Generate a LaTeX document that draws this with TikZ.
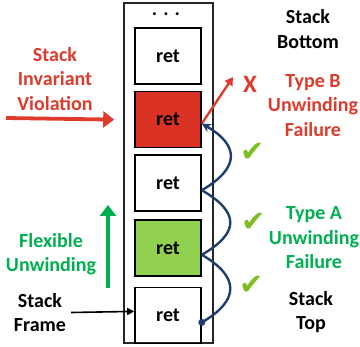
\documentclass[tikz,border=0pt]{standalone}
\usepackage{fontspec}
\setmainfont{Carlito}
\newfontfamily\symfont{DejaVu Sans}
\usetikzlibrary{positioning}
\usetikzlibrary{arrows.meta}
\definecolor{vred}{HTML}{DF3B2D}
\definecolor{fred}{HTML}{DA3225}
\definecolor{vgreen}{HTML}{00B050}
\definecolor{fgreen}{HTML}{92D050}
\definecolor{unblue}{HTML}{1F3D6E}
\definecolor{chkgreen}{HTML}{7DBE22}
\tikzset{
    frame/.style={
           draw=black!85,
           line width=1.8pt,
           },
    retbox/.style={
           rectangle,
           draw=black, line width=1.6pt,
           minimum width=66pt,
           minimum height=56pt,
           inner sep=0pt,
           font=\fontsize{20}{24}\selectfont\bfseries
           },
    lbl/.style={
              align=center,
              inner sep=0pt,
              font=\fontsize{20}{24.5}\selectfont\bfseries
              },
    bigarrow/.style={
              line width=3.8pt,
              -{Triangle[length=11pt,width=16pt]}
              },
    unwind/.style={
              unblue,
              line width=2.4pt
              },
    chk/.style={
              text=chkgreen,
              inner sep=0pt,
              font=\symfont\fontsize{29}{29}\selectfont
              },
}
\begin{document}
\begin{tikzpicture}[x=1pt,y=-1pt]
  \useasboundingbox (0,0) rectangle (360,347);
     \draw[frame] (124,3) rectangle (213,343);
     \node[lbl]    (dots) at (166,14) {. . .};
     \node[retbox] (b1) at (168,56) {ret};
     \node[retbox,fill=fred]   (b2) [below=6pt of b1] {ret};
     \node[retbox]             (b3) [below=6pt of b2] {ret};
     \node[retbox,fill=fgreen] (b4) [below=7pt of b3] {ret};
     \node[retbox]             (b5) [below=10pt of b4] {ret};

     \node[lbl,text=vred]   (siv) at (55,79)    {Stack\\Invariant\\Violation};
     \node[lbl]             (sb)  at (308,29)   {Stack\\Bottom};
     \node[lbl,text=vred]   (tb)  at (313,105.5) {Type B\\Unwinding\\Failure};
     \node[lbl,text=vgreen] (ta)  at (314,238)  {Type A\\Unwinding\\Failure};
     \node[lbl]             (st)  at (311,312)  {Stack\\Top};
     \node[lbl,text=vgreen] (fu)  at (51,254)   {Flexible\\Unwinding};
     \node[lbl]             (sf)  at (40,312.5) {Stack\\Frame};

     \node[text=vred,inner sep=0pt,font=\fontsize{25}{25}\selectfont\bfseries] (xb) at (250,84) {X};
     \node[chk] (c1) at (253,152) {✔};
     \node[chk] (c2) at (254,222) {✔};
     \node[chk] (c3) at (252,285) {✔};

     \coordinate (vs)  at (6,118);
     \coordinate (fu1) at (108,288);
     \coordinate (fu2) at (108,205);
     \coordinate (tbx) at (233,77);
     \coordinate (u5) at ([yshift=-7pt]b5.east);
     \coordinate (u4) at ([yshift=-7pt]b4.east);
     \coordinate (u3) at ([yshift=-7pt]b3.east);
     \coordinate (u2) at ([yshift=-4pt]b2.east);

     \draw[bigarrow,vred]   (vs) -- ([xshift=-20pt]b2.west);
     \draw[bigarrow,vgreen] (fu1) -- (fu2);
     \draw[line width=1.6pt,-{Triangle[length=7pt,width=7pt]}]
      ([xshift=5pt]sf.east) -- ([yshift=4pt]b5.west);
     \draw[vred,line width=2.4pt,-{Triangle[length=8pt,width=9pt]}] (u2) -- (tbx);

     \fill[unblue] (u5) circle (3.5pt);
     \draw[unwind]
      (u5) .. controls +(38,-22) and +(38,22) .. (u4)
      (u4) .. controls +(38,-22) and +(38,22) .. (u3);
     \draw[unwind,-{Stealth[length=9pt,width=9pt]}]
      (u3) .. controls +(38,-22) and +(38,22) .. (u2);
\end{tikzpicture}
\end{document}
